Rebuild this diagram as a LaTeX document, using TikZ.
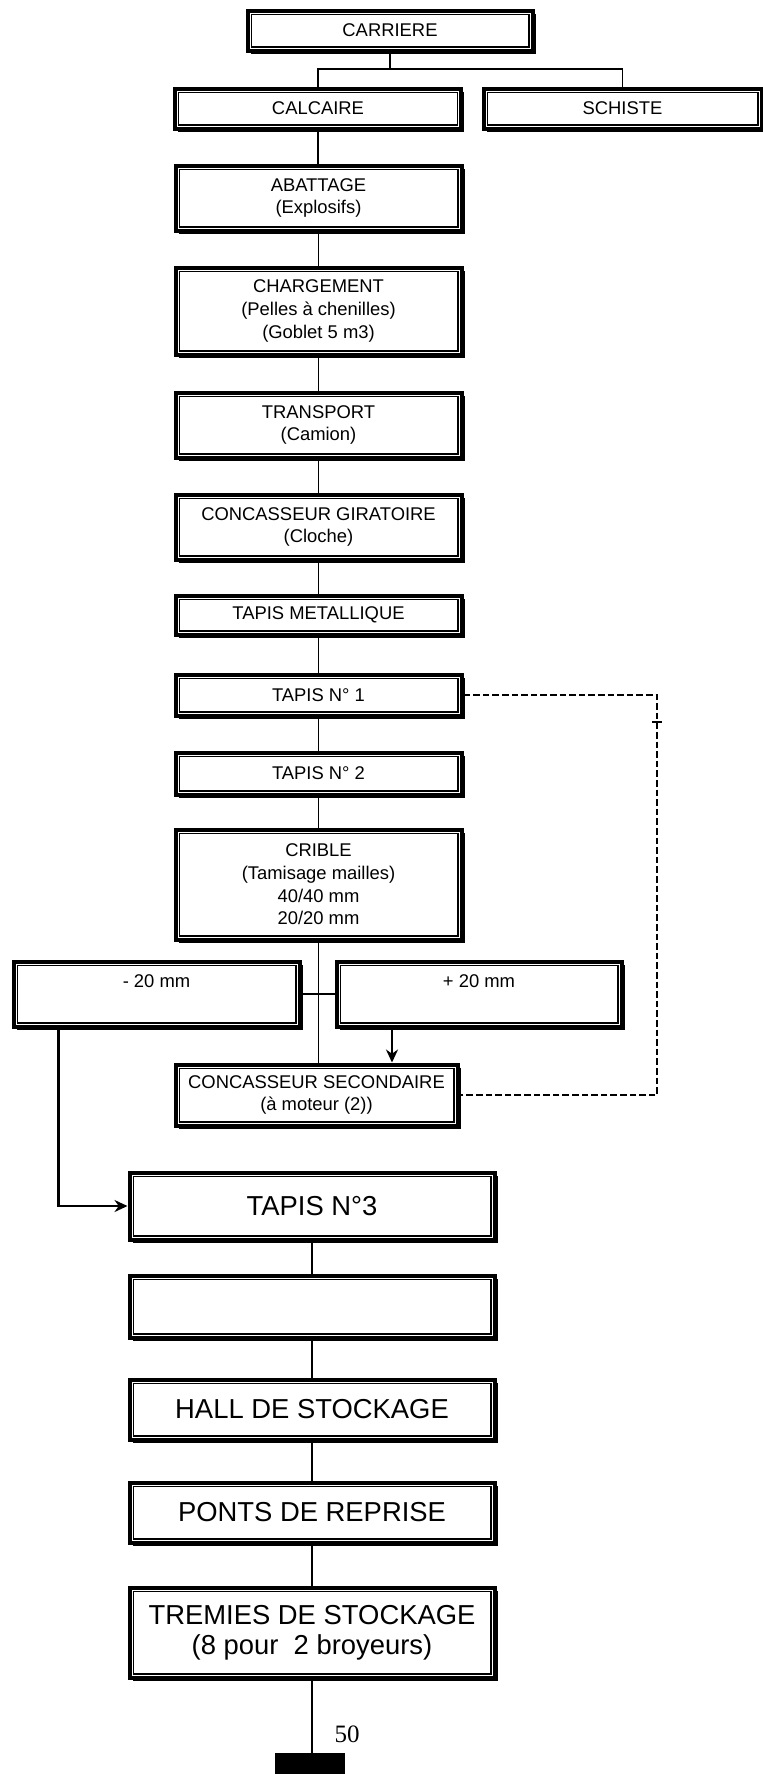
\documentclass[tikz,border=0pt]{standalone}
\usepackage{fontspec}
\setmainfont{Liberation Sans}
\newfontfamily\pagefont{Liberation Serif}
\usetikzlibrary{shadows,arrows.meta}
\begin{document}
\begin{tikzpicture}[x=0.5pt,y=-0.5pt,
  boxst/.style={draw=black, line width=2pt, fill=white, align=center, inner sep=0pt,
    drop shadow={shadow xshift=1.6pt, shadow yshift=-1.6pt, opacity=1, fill=black},
    font=\fontsize{9.2}{11.3}\selectfont},
  mainbox/.style={boxst, minimum width=143pt},
  lowbox/.style={boxst, minimum width=182.5pt, font=\fontsize{13.7}{15}\selectfont},
  conn/.style={line width=0.8pt},
  arr/.style={line width=1.2pt, -{Stealth[length=6.5pt,width=6pt]}},
  dashline/.style={line width=1.1pt, dash pattern=on 3.3pt off 1.5pt},
  innerline/.style={line width=0.6pt}
]
\useasboundingbox[fill=white] (0,0) rectangle (762,1774);

% top
\node[boxst, minimum width=142.5pt, minimum height=20pt] (car) at (390,30.5) {CARRIERE};
\node[mainbox, minimum height=20pt] (cal) at (318,108.5) {CALCAIRE};
\node[boxst, minimum width=139pt, minimum height=20pt] (sch) at (622.5,108.5) {SCHISTE};

% main column
\node[mainbox, minimum height=32.5pt] (aba) at (318.5,198) {ABATTAGE\\(Explosifs)};
\node[mainbox, minimum height=43.5pt] (cha) at (318.5,311) {CHARGEMENT\\(Pelles à chenilles)\\(Goblet 5 m3)};
\node[mainbox, minimum height=32.5pt] (tra) at (318.5,425) {TRANSPORT\\(Camion)};
\node[mainbox, minimum height=32.5pt] (gir) at (318.5,527) {CONCASSEUR GIRATOIRE\\(Cloche)};
\node[mainbox, minimum height=19.5pt] (met) at (318.5,615) {TAPIS METALLIQUE};
\node[mainbox, minimum height=20.5pt] (ta1) at (318.5,695) {TAPIS N° 1};
\node[mainbox, minimum height=21pt] (ta2) at (318.5,773.5) {TAPIS N° 2};
\node[mainbox, minimum height=55pt] (cri) at (318.5,884.5) {CRIBLE\\(Tamisage mailles)\\40/40 mm\\20/20 mm};

% split
\node[boxst, minimum width=143pt, minimum height=32.5pt, text height=12.75pt, text depth=19.75pt] (m20) at (156.5,994) {- 20 mm};
\node[boxst, minimum width=142.5pt, minimum height=32.5pt, text height=12.75pt, text depth=19.75pt] (p20) at (479,994) {+ 20 mm};
\node[boxst, minimum width=141pt, minimum height=30.5pt] (cs) at (316.5,1095) {CONCASSEUR SECONDAIRE\\(à moteur (2))};

% lower column
\node[lowbox, minimum height=33.5pt] (ta3) at (312,1206) {TAPIS N°3};
\node[lowbox, minimum height=31pt] (bl) at (312,1306.5) {};
\node[lowbox, minimum height=30pt] (hal) at (312,1409.5) {HALL DE STOCKAGE};
\node[lowbox, minimum height=30pt] (pon) at (312,1512.5) {PONTS DE REPRISE};
\node[lowbox, minimum height=45pt] (tre) at (312,1632.5) {TREMIES DE STOCKAGE\\(8 pour\ \ 2 broyeurs)};

% inner thin frames
\foreach \n in {car,cal,sch,aba,cha,tra,gir,met,ta1,ta2,cri,m20,p20,cs,ta3,bl,hal,pon,tre}
  \draw[innerline] ([shift={(2.8pt,2.8pt)}]\n.south west) rectangle ([shift={(-2.8pt,-2.8pt)}]\n.north east);

% page marker
\node[fill=black, inner sep=0pt, minimum width=35pt, minimum height=16pt] (blk) at (310,1769) {};
\node[font=\pagefont\fontsize{12.5}{14}\selectfont, inner sep=0pt] (pg) at (347,1734) {50};

% connectors top
\coordinate (j0) at (390,69);
\draw[conn] (car.south) -- (car.south |- j0);
\draw[conn] (cal.north) -- (cal.north |- j0) -- (sch.north |- j0) -- (sch.north);

% main chain
\foreach \a/\b in {cal/aba,aba/cha,cha/tra,tra/gir,gir/met,met/ta1,ta1/ta2,ta2/cri}
  \draw[conn] (\a.south) -- (\a.south |- \b.north);
\draw[conn] (cri.south) -- (cri.south |- cs.north);
\draw[conn] (m20.east) -- (p20.west);

% arrows
\coordinate (pa) at (392,0);
\draw[arr] (p20.south -| pa) -- (cs.north -| pa);
\coordinate (ma) at (58.5,0);
\draw[arr] (m20.south -| ma) |- (ta3.west);

% dashed return
\coordinate (dx) at (657,0);
\draw[dashline] (ta1.east) -| (dx |- cs.east) -- (cs.east);
\coordinate (tk) at (657,722);
\draw[conn] ([xshift=-2.5pt]tk) -- ([xshift=2.5pt]tk);

% lower chain
\foreach \a/\b in {ta3/bl,bl/hal,hal/pon,pon/tre}
  \draw[conn] (\a.south) -- (\b.north);
\draw[conn] (tre.south) -- (tre.south |- blk.north);
\end{tikzpicture}
\end{document}
